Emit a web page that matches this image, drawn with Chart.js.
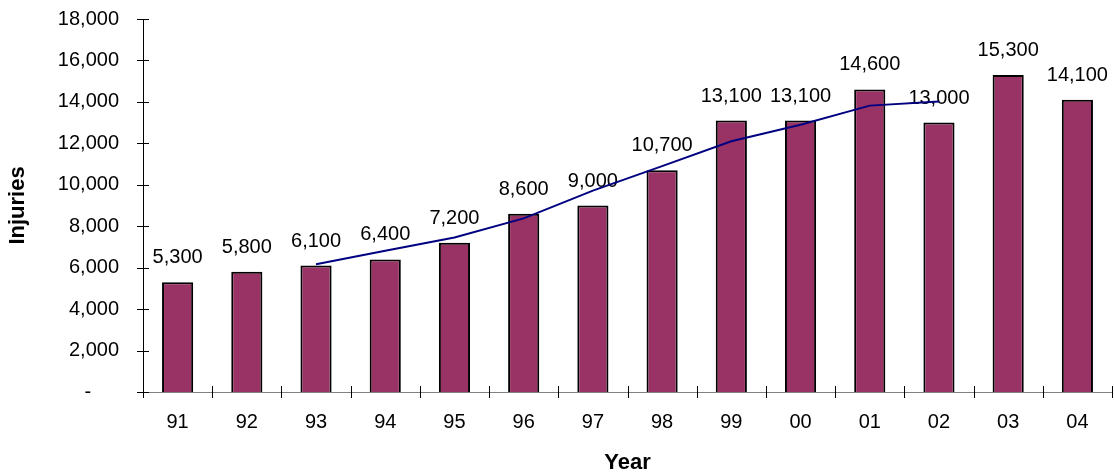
<!DOCTYPE html>
<html>
<head>
<meta charset="utf-8">
<script src="https://cdn.jsdelivr.net/npm/chart.js@4/dist/chart.umd.min.js"></script>
<style>
  body { margin: 0; background: #fff; }
  #wrap { width: 1114px; height: 476px; position: relative; }
</style>
</head>
<body>
<div id="wrap"><canvas id="injuryChart"></canvas></div>
<script>
const years = ["91", "92", "93", "94", "95", "96", "97", "98", "99", "00", "01", "02", "03", "04"];
const injuries = [5300, 5800, 6100, 6400, 7200, 8600, 9000, 10700, 13100, 13100, 14600, 13000, 15300, 14100];
const trend = [null, null, 6160, 6820, 7460, 8380, 9720, 10900, 12100, 12900, 13820, 14020, null, null];
const yMin = 0;
const yMax = 18000;
const yStep = 2000;

const FONT = "'Liberation Sans', Arial, sans-serif";

// value labels above the bars, drawn before the trend line
const barLabels = {
  id: "barLabels",
  afterDatasetDraw(chart, args) {
    if (args.index !== 0) return;
    const ctx = chart.ctx;
    ctx.save();
    ctx.font = "20px " + FONT;
    ctx.fillStyle = "#000";
    ctx.textAlign = "center";
    ctx.textBaseline = "alphabetic";
    args.meta.data.forEach(function (bar, i) {
      ctx.fillText(injuries[i].toLocaleString("en-US"), bar.x, bar.y - 19);
    });
    ctx.restore();
  },
};

// small tick marks crossing both axes
const crossTicks = {
  id: "crossTicks",
  afterDraw(chart) {
    const ctx = chart.ctx;
    const area = chart.chartArea;
    const x = chart.scales.x;
    const y = chart.scales.y;
    ctx.save();
    ctx.strokeStyle = "#000";
    ctx.lineWidth = 1;
    y.ticks.forEach(function (t) {
      const py = Math.round(y.getPixelForValue(t.value)) + 0.5;
      ctx.beginPath();
      ctx.moveTo(area.left - 6, py);
      ctx.lineTo(area.left + 6, py);
      ctx.stroke();
    });
    const half = (x.getPixelForValue(1) - x.getPixelForValue(0)) / 2;
    for (let i = 0; i <= years.length; i++) {
      const px = Math.round(x.getPixelForValue(i) - half) + 0.5;
      ctx.beginPath();
      ctx.moveTo(px, area.bottom - 6);
      ctx.lineTo(px, area.bottom + 6);
      ctx.stroke();
    }
    ctx.restore();
  },
};

const ctx = document.getElementById("injuryChart").getContext("2d");
new Chart(ctx, {
  type: "bar",
  data: {
    labels: years,
    datasets: [
      {
        label: "Injuries",
        data: injuries,
        backgroundColor: "#993366",
        borderColor: "#000",
        borderWidth: 2,
        barPercentage: 0.45,
        categoryPercentage: 1,
        order: 2,
      },
      {
        type: "line",
        label: "Trend",
        data: trend,
        borderColor: "#000080",
        borderWidth: 2,
        pointRadius: 0,
        tension: 0,
        fill: false,
        order: 1,
      },
    ],
  },
  options: {
    responsive: true,
    maintainAspectRatio: false,
    animation: false,
    layout: {
      padding: { top: 19, right: 2, left: 0, bottom: 0 },
    },
    plugins: {
      legend: { display: false },
      tooltip: { enabled: false },
    },
    scales: {
      x: {
        grid: { display: false, drawTicks: false },
        border: { display: true, color: "#808080", width: 1 },
        ticks: {
          color: "#000",
          font: { family: FONT, size: 20 },
          padding: 18,
          maxRotation: 0,
        },
        title: {
          display: true,
          text: "Year",
          color: "#000",
          font: { family: FONT, size: 22, weight: "bold" },
          padding: { top: 0, bottom: 0 },
        },
        afterFit(scale) {
          scale.height = 84;
        },
      },
      y: {
        min: yMin,
        max: yMax,
        grid: { display: false, drawTicks: false },
        border: { display: true, color: "#000", width: 1 },
        ticks: {
          stepSize: yStep,
          color: "#000",
          font: { family: FONT, size: 20 },
          padding: 24,
          callback: function (v) {
            return v === 0 ? "-     " : v.toLocaleString("en-US");
          },
        },
        title: {
          display: true,
          text: "Injuries",
          color: "#000",
          font: { family: FONT, size: 22, weight: "bold" },
          padding: { top: 5, bottom: 0 },
        },
        afterFit(scale) {
          scale.width = 143;
          scale.paddingTop = 0;
          scale.paddingBottom = 0;
        },
      },
    },
  },
  plugins: [barLabels, crossTicks],
});
</script>
</body>
</html>
